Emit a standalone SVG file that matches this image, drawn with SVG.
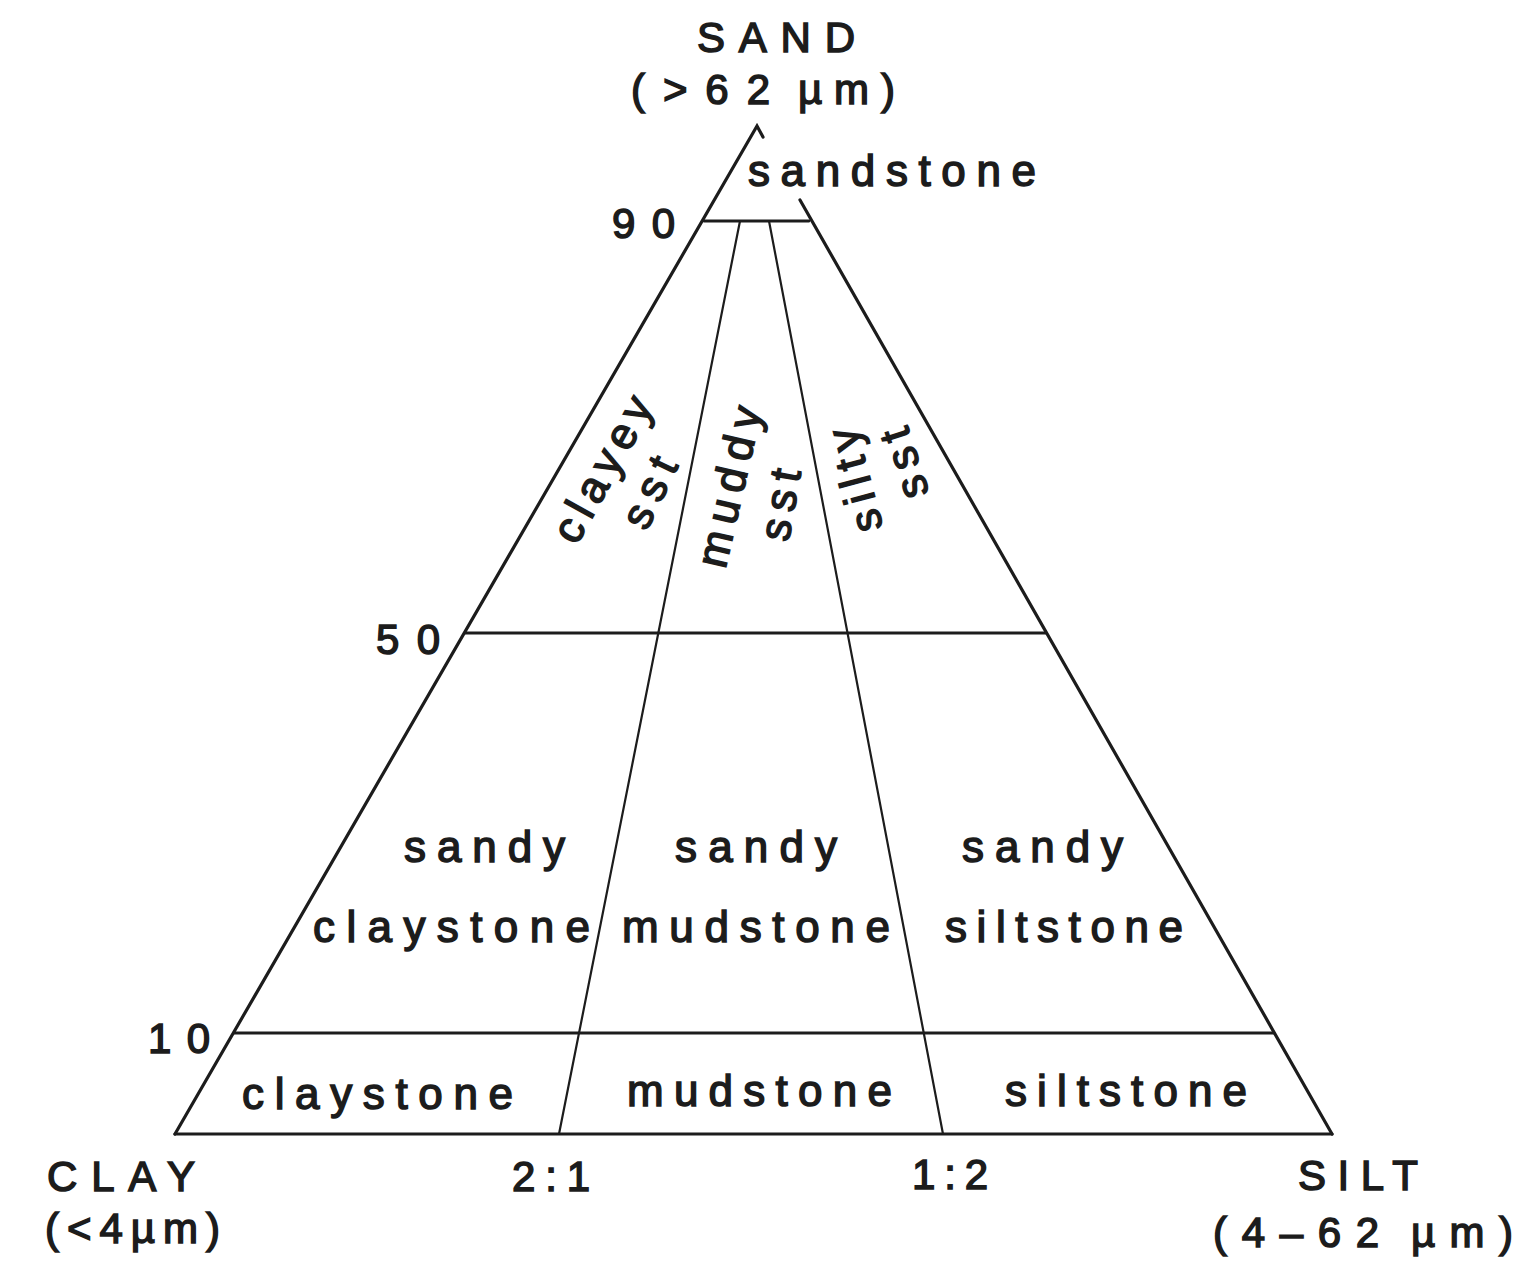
<svg xmlns="http://www.w3.org/2000/svg" width="1519" height="1266" viewBox="0 0 1519 1266">
<style>
.t{font-family:"Liberation Sans",Arial,sans-serif;font-size:44px;fill:#1c1c1c;stroke:#1c1c1c;stroke-width:1.5;}
.c{font-size:42px;}
.ln{fill:none;stroke:#1c1c1c;stroke-linecap:round;}
.o{stroke-width:3.2;}
.h{stroke-width:2.8;}
.d{stroke-width:2.2;}
</style>
<rect width="1519" height="1266" fill="#ffffff"/>
<g id="connectors">
<polyline class="ln o" points="175,1134 757,126 763,137"/>
<line class="ln o" x1="800" y1="200" x2="1332" y2="1134"/>
<line class="ln o" x1="175" y1="1134" x2="1332" y2="1134"/>
<line class="ln h" x1="704" y1="221" x2="809" y2="221"/>
<line class="ln h" x1="465" y1="633" x2="1046" y2="633"/>
<line class="ln h" x1="234" y1="1033" x2="1274" y2="1033"/>
<line class="ln d" x1="740" y1="221" x2="559" y2="1134"/>
<line class="ln d" x1="769" y1="221" x2="943" y2="1134"/>
</g>
<g id="apex-sand">
<text class="t c" x="697" y="52" textLength="158" lengthAdjust="spacing">SAND</text>
<text class="t c" y="104"><tspan x="631" textLength="139" lengthAdjust="spacing">(&gt;62</tspan> <tspan x="798" textLength="97" lengthAdjust="spacing">µm)</tspan></text>
</g>
<g id="corner-clay">
<text class="t c" x="47" y="1191" textLength="148" lengthAdjust="spacing">CLAY</text>
<text class="t c" x="45" y="1243" textLength="175" lengthAdjust="spacing">(&lt;4µm)</text>
</g>
<g id="corner-silt">
<text class="t c" x="1298" y="1190" textLength="120" lengthAdjust="spacing">SILT</text>
<text class="t c" y="1247"><tspan x="1213" textLength="166" lengthAdjust="spacing">(4–62</tspan> <tspan x="1411" textLength="102" lengthAdjust="spacing">µm)</tspan></text>
</g>
<g id="ticks">
<text class="t c" x="612" y="238" textLength="63" lengthAdjust="spacing">90</text>
<text class="t c" x="376" y="654" textLength="64" lengthAdjust="spacing">50</text>
<text class="t c" x="148" y="1053" textLength="62" lengthAdjust="spacing">10</text>
<text class="t c" x="512" y="1191" textLength="78" lengthAdjust="spacing">2:1</text>
<text class="t c" x="912" y="1189" textLength="76" lengthAdjust="spacing">1:2</text>
</g>
<g id="field-sandstone">
<text class="t" x="748" y="186" textLength="288" lengthAdjust="spacing">sandstone</text>
</g>
<g id="field-clayey-sst">
<text class="t" transform="translate(604,470) rotate(-61)" x="0" y="13" text-anchor="middle" textLength="160" lengthAdjust="spacing">clayey</text>
<text class="t" transform="translate(651,493) rotate(-64)" x="0" y="13" text-anchor="middle" textLength="74" lengthAdjust="spacing">sst</text>
</g>
<g id="field-muddy-sst">
<text class="t" transform="translate(731,487) rotate(-77)" x="0" y="13" text-anchor="middle" textLength="164" lengthAdjust="spacing">muddy</text>
<text class="t" transform="translate(782,505) rotate(-80)" x="0" y="13" text-anchor="middle" textLength="72" lengthAdjust="spacing">sst</text>
</g>
<g id="field-silty-sst">
<text class="t" transform="translate(857,480) rotate(-105)" x="0" y="13" text-anchor="middle" textLength="106" lengthAdjust="spacing">silty</text>
<text class="t" transform="translate(906,463) rotate(-108)" x="0" y="13" text-anchor="middle" textLength="72" lengthAdjust="spacing">sst</text>
</g>
<g id="field-sandy-claystone">
<text class="t" x="404" y="862" textLength="161" lengthAdjust="spacing">sandy</text>
<text class="t" x="313" y="942" textLength="277" lengthAdjust="spacing">claystone</text>
</g>
<g id="field-sandy-mudstone">
<text class="t" x="675" y="862" textLength="162" lengthAdjust="spacing">sandy</text>
<text class="t" x="622" y="942" textLength="268" lengthAdjust="spacing">mudstone</text>
</g>
<g id="field-sandy-siltstone">
<text class="t" x="962" y="862" textLength="161" lengthAdjust="spacing">sandy</text>
<text class="t" x="945" y="942" textLength="238" lengthAdjust="spacing">siltstone</text>
</g>
<g id="field-claystone">
<text class="t" x="242" y="1109" textLength="271" lengthAdjust="spacing">claystone</text>
</g>
<g id="field-mudstone">
<text class="t" x="627" y="1106" textLength="265" lengthAdjust="spacing">mudstone</text>
</g>
<g id="field-siltstone">
<text class="t" x="1005" y="1106" textLength="242" lengthAdjust="spacing">siltstone</text>
</g>
</svg>
